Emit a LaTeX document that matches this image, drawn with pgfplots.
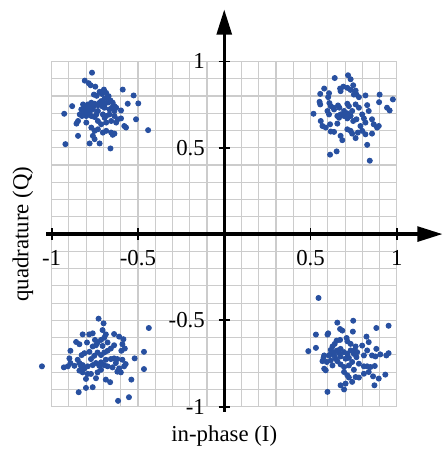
\documentclass[border=0pt]{standalone}
\usepackage{fontspec}
\setmainfont{Liberation Serif}
\usepackage{pgfplots}
\pgfplotsset{compat=1.18}
\usetikzlibrary{arrows.meta}
\definecolor{dotblue}{RGB}{40,80,160}

\begin{document}
\begin{tikzpicture}
\begin{axis}[
  x=75.7pt, y=75.7pt,
  xmin=-1, xmax=1, ymin=-1, ymax=1,
  clip=false,
  axis lines=middle,
  axis line style={line width=1.4pt, -{Triangle[length=11pt,width=6.5pt]}},
  x axis line style={shorten >=-20pt, shorten <=-2.3pt},
  y axis line style={shorten >=-22.8pt, shorten <=-2.3pt},
  xtick={-1,-0.5,0.5,1},
  ytick={-1,-0.5,0.5,1},
  xticklabels={{-1},{-0.5},{0.5},{1}},
  yticklabels={{-1},{-0.5},{0.5},{1}},
  % minor grid only between the major ticks, so no line is drawn twice
  minor xtick={-0.9,-0.8,-0.7,-0.6,-0.4,-0.3,-0.2,-0.1,0,0.1,0.2,0.3,0.4,0.6,0.7,0.8,0.9},
  minor ytick={-0.9,-0.8,-0.7,-0.6,-0.4,-0.3,-0.2,-0.1,0,0.1,0.2,0.3,0.4,0.6,0.7,0.8,0.9},
  grid=both,
  major grid style={black!20, line width=0.5pt},
  minor grid style={black!20, line width=0.5pt},
  tick align=center,
  major tick length=5pt,
  minor tick length=0pt,
  tick style={black, line width=0.8pt},
  xticklabel style={yshift=-1pt},
  yticklabel style={xshift=-2.5pt},
  every axis x label/.style={at={(axis description cs:0.5,-0.085)}, anchor=center},
  every axis y label/.style={at={(axis description cs:-0.0835,0.5)}, anchor=center, rotate=90},
  xlabel={in-phase (I)},
  ylabel={quadrature (Q)},
]
\addplot[only marks, mark=*, mark size=1.1pt, color=dotblue] coordinates {
(-0.766,0.935) (-0.808,0.889) (-0.785,0.874) (-0.774,0.862) (-0.747,0.854)
(-0.755,0.808) (-0.722,0.824) (-0.739,0.801) (-0.709,0.812) (-0.684,0.818)
(-0.678,0.793) (-0.693,0.785) (-0.713,0.770) (-0.659,0.774) (-0.674,0.762)
(-0.646,0.761) (-0.636,0.741) (-0.651,0.732) (-0.626,0.732) (-0.588,0.837)
(-0.525,0.803) (-0.498,0.757) (-0.559,0.755) (-0.598,0.716) (-0.636,0.713)
(-0.665,0.722) (-0.693,0.732) (-0.709,0.741) (-0.732,0.747) (-0.751,0.755)
(-0.770,0.761) (-0.789,0.751) (-0.808,0.741) (-0.818,0.751) (-0.828,0.722)
(-0.837,0.693) (-0.824,0.684) (-0.808,0.713) (-0.793,0.713) (-0.780,0.703)
(-0.770,0.684) (-0.799,0.684) (-0.847,0.655) (-0.856,0.640) (-0.799,0.646)
(-0.751,0.678) (-0.741,0.693) (-0.732,0.713) (-0.703,0.693) (-0.693,0.674)
(-0.684,0.684) (-0.713,0.636) (-0.684,0.646) (-0.655,0.655) (-0.665,0.693)
(-0.636,0.684) (-0.617,0.665) (-0.598,0.670) (-0.626,0.646) (-0.579,0.626)
(-0.569,0.617) (-0.511,0.665) (-0.441,0.602) (-0.881,0.741) (-0.927,0.697)
(-0.847,0.569) (-0.770,0.617) (-0.751,0.598) (-0.732,0.607) (-0.703,0.588)
(-0.684,0.598) (-0.655,0.588) (-0.646,0.575) (-0.636,0.582) (-0.761,0.569)
(-0.751,0.550) (-0.722,0.525) (-0.780,0.525) (-0.920,0.521) (-0.659,0.496)
(-0.732,0.655) (-0.761,0.722) (-0.785,0.732) (-0.722,0.761) (-0.693,0.755)
(-0.670,0.799) (-0.697,0.837) (-0.805,0.728) (-0.818,0.693) (-0.774,0.732)
(-0.755,0.741)
};
\addplot[only marks, mark=*, mark size=1.1pt, color=dotblue] coordinates {
(0.640,0.904) (0.717,0.920) (0.732,0.897) (0.747,0.862) (0.690,0.854)
(0.671,0.843) (0.674,0.828) (0.713,0.847) (0.732,0.835) (0.761,0.831)
(0.766,0.808) (0.780,0.793) (0.818,0.803) (0.900,0.808) (0.977,0.780)
(0.897,0.764) (0.943,0.732) (0.958,0.716) (0.579,0.843) (0.556,0.812)
(0.607,0.816) (0.602,0.793) (0.552,0.766) (0.556,0.751) (0.609,0.759)
(0.617,0.741) (0.632,0.732) (0.659,0.745) (0.667,0.732) (0.713,0.755)
(0.694,0.713) (0.674,0.693) (0.655,0.684) (0.713,0.699) (0.741,0.713)
(0.732,0.684) (0.761,0.751) (0.780,0.732) (0.828,0.747) (0.837,0.713)
(0.799,0.693) (0.766,0.665) (0.747,0.655) (0.809,0.670) (0.818,0.646)
(0.856,0.665) (0.866,0.636) (0.885,0.617) (0.895,0.626) (0.517,0.697)
(0.598,0.713) (0.607,0.693) (0.559,0.655) (0.569,0.626) (0.588,0.617)
(0.613,0.636) (0.655,0.640) (0.617,0.594) (0.636,0.592) (0.674,0.569)
(0.684,0.544) (0.713,0.607) (0.732,0.598) (0.741,0.582) (0.761,0.556)
(0.774,0.588) (0.799,0.598) (0.818,0.578) (0.856,0.582) (0.828,0.517)
(0.613,0.460) (0.651,0.479) (0.843,0.425) (0.636,0.722) (0.694,0.684)
(0.722,0.741) (0.789,0.626) (0.751,0.808) (0.665,0.674) (0.713,0.670)
};
\addplot[only marks, mark=*, mark size=1.1pt, color=dotblue] coordinates {
(-1.056,-0.766) (-0.728,-0.490) (-0.699,-0.517) (-0.705,-0.556) (-0.686,-0.581)
(-0.695,-0.600) (-0.714,-0.613) (-0.820,-0.581) (-0.782,-0.581) (-0.762,-0.575)
(-0.638,-0.579) (-0.609,-0.594) (-0.584,-0.609) (-0.590,-0.638) (-0.576,-0.663)
(-0.596,-0.676) (-0.858,-0.625) (-0.839,-0.638) (-0.734,-0.628) (-0.743,-0.644)
(-0.762,-0.651) (-0.749,-0.613) (-0.676,-0.628) (-0.657,-0.663) (-0.676,-0.676)
(-0.695,-0.686) (-0.714,-0.701) (-0.734,-0.686) (-0.781,-0.682) (-0.810,-0.690)
(-0.826,-0.701) (-0.891,-0.676) (-0.897,-0.720) (-0.929,-0.772) (-0.906,-0.766)
(-0.891,-0.747) (-0.849,-0.728) (-0.839,-0.747) (-0.820,-0.759) (-0.810,-0.778)
(-0.791,-0.766) (-0.762,-0.759) (-0.743,-0.747) (-0.724,-0.763) (-0.714,-0.743)
(-0.695,-0.759) (-0.686,-0.728) (-0.657,-0.724) (-0.638,-0.720) (-0.619,-0.724)
(-0.590,-0.728) (-0.628,-0.747) (-0.647,-0.772) (-0.676,-0.766) (-0.609,-0.778)
(-0.580,-0.766) (-0.571,-0.753) (-0.599,-0.801) (-0.519,-0.720) (-0.465,-0.682)
(-0.437,-0.544) (-0.465,-0.782) (-0.538,-0.843) (-0.619,-0.797) (-0.839,-0.791)
(-0.820,-0.801) (-0.791,-0.810) (-0.801,-0.839) (-0.772,-0.810) (-0.743,-0.835)
(-0.734,-0.801) (-0.714,-0.786) (-0.686,-0.843) (-0.661,-0.858) (-0.801,-0.891)
(-0.762,-0.887) (-0.843,-0.916) (-0.615,-0.966) (-0.552,-0.945) (-0.868,-0.763)
(-0.772,-0.724) (-0.705,-0.648) (-0.638,-0.644) (-0.795,-0.628) (-0.829,-0.766)
(-0.753,-0.705)
};
\addplot[only marks, mark=*, mark size=1.1pt, color=dotblue] coordinates {
(0.546,-0.370) (0.655,-0.513) (0.747,-0.502) (0.671,-0.550) (0.684,-0.559)
(0.745,-0.565) (0.881,-0.544) (0.952,-0.531) (0.531,-0.582) (0.598,-0.582)
(0.602,-0.575) (0.709,-0.602) (0.671,-0.613) (0.651,-0.617) (0.640,-0.636)
(0.627,-0.651) (0.617,-0.671) (0.713,-0.621) (0.732,-0.636) (0.761,-0.651)
(0.755,-0.674) (0.799,-0.646) (0.824,-0.594) (0.837,-0.626) (0.881,-0.665)
(0.487,-0.678) (0.531,-0.659) (0.579,-0.703) (0.575,-0.717) (0.607,-0.703)
(0.636,-0.684) (0.655,-0.674) (0.674,-0.665) (0.694,-0.684) (0.713,-0.694)
(0.732,-0.674) (0.751,-0.694) (0.770,-0.684) (0.766,-0.713) (0.809,-0.703)
(0.828,-0.674) (0.856,-0.703) (0.876,-0.709) (0.904,-0.697) (0.952,-0.690)
(0.939,-0.703) (0.872,-0.764) (0.847,-0.770) (0.828,-0.766) (0.809,-0.766)
(0.780,-0.751) (0.741,-0.741) (0.722,-0.761) (0.694,-0.770) (0.674,-0.755)
(0.655,-0.736) (0.627,-0.761) (0.617,-0.732) (0.594,-0.741) (0.569,-0.736)
(0.579,-0.780) (0.588,-0.789) (0.694,-0.799) (0.713,-0.818) (0.722,-0.831)
(0.761,-0.828) (0.780,-0.831) (0.741,-0.856) (0.703,-0.866) (0.674,-0.876)
(0.694,-0.900) (0.809,-0.809) (0.837,-0.799) (0.895,-0.837) (0.862,-0.824)
(0.870,-0.876) (0.933,-0.814) (0.598,-0.914) (0.636,-0.703) (0.617,-0.694)
(0.646,-0.722) (0.674,-0.709) (0.703,-0.722) (0.722,-0.717) (0.665,-0.690)
(0.751,-0.786)
};
\path (axis cs:-1.299,-1.253) rectangle (axis cs:1.264,1.356);
\end{axis}
\end{tikzpicture}
\end{document}
